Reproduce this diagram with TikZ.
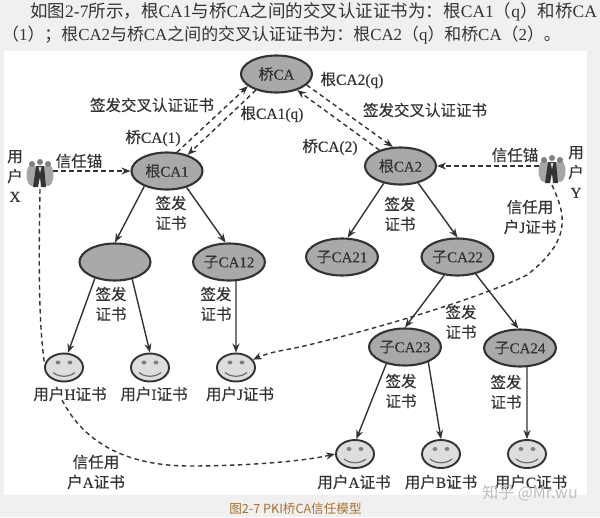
\documentclass[tikz,border=0pt]{standalone}
\usepackage{fontspec}
\setmainfont{Liberation Serif}
\newfontfamily\cjk{Noto Sans CJK SC}[FakeBold=0.25]
\newfontfamily\cjkplain{Noto Sans CJK SC}
\newfontfamily\serifheavy{Liberation Serif}[FakeBold=0.25]
\usetikzlibrary{shapes.geometric,arrows.meta}
\newcommand{\Z}[1]{{\cjk #1}}
\newcommand{\Y}[1]{{\cjkplain #1}}
\definecolor{inkc}{HTML}{333333}
\definecolor{fillca}{HTML}{A9A9A9}
\definecolor{fillface}{HTML}{DDDDDD}
\definecolor{bgc}{HTML}{F0F0F0}
\definecolor{capc}{HTML}{A9702F}
\tikzset{
  canode/.style={ellipse,draw=inkc,line width=2.1pt,fill=fillca,minimum width=71pt,minimum height=37pt,inner sep=0pt,text=inkc,font=\fontsize{15}{15}\serifheavy},
  face/.style={ellipse,draw=inkc,line width=1.9pt,fill=fillface,minimum width=38pt,minimum height=28pt,inner sep=0pt},
  lab/.style={text=inkc,font=\fontsize{15.5}{20}\serifheavy,align=center,inner sep=0pt},
  solidarrow/.style={draw=inkc,line width=1.4pt,-{Stealth[length=9pt,width=7pt]}},
  dasharrow/.style={draw=inkc,line width=1.4pt,dash pattern=on 4.5pt off 3.5pt,-{Stealth[length=9pt,width=7pt]}},
  dashplain/.style={draw=inkc,line width=1.4pt,dash pattern=on 4.5pt off 3.5pt},
  para/.style={anchor=west,inner sep=0pt,text=black!80},
}
\newcommand{\smileyface}[3]{%
  \node[face] (#1) at (#2,#3) {};
  \fill[gray] (#2-6,#3-5) ellipse (2.4pt and 2pt) (#2+6,#3-5) ellipse (2.4pt and 2pt);
  \draw[gray!85!black,line width=1.2pt] (#2-11,#3+5) .. controls (#2-5,#3+10) and (#2+5,#3+10) .. (#2+11,#3+5);
}
\newcommand{\peoplegroup}[3]{%
  \node[minimum width=26pt,minimum height=30pt,inner sep=0pt] (#1) at (#2,#3) {};
  \fill[gray!70] (#2-8,#3+1) ellipse (5.5pt and 11pt) (#2+8,#3+1) ellipse (5.5pt and 11pt);
  \fill[gray] (#2-8,#3-10) circle (3pt) (#2,#3-12) circle (3pt) (#2+8,#3-10) circle (3pt);
  \fill[inkc] (#2-4,#3-8) -- (#2+4,#3-8) -- (#2+6,#3+13) -- (#2+1,#3+13) -- (#2,#3+3) -- (#2-2,#3+13) -- (#2-7,#3+13) -- cycle;
  \fill[gray!35] (#2-1.5,#3-7) -- (#2+1.5,#3-7) -- (#2,#3-1) -- cycle;
}
\begin{document}
\begin{tikzpicture}[x=1pt,y=-1pt]
\useasboundingbox (0,0) rectangle (600,517);
\fill[bgc] (0,0) rectangle (600,517);
\fill[white] (4,51) rectangle (587,495);
% paragraph
\node[para,font=\fontsize{17.5}{18}\selectfont] (line1) at (30,12) {\Y{如图}2-7\Y{所示，根}CA1\Y{与桥}CA\Y{之间的交叉认证证书为：根}CA1\Y{（}q\Y{）和桥}CA};
\node[para,font=\fontsize{16.9}{18}\selectfont] (line2) at (2,35) {\Y{（}1\Y{）；根}CA2\Y{与桥}CA\Y{之间的交叉认证证书为：根}CA2\Y{（}q\Y{）和桥}CA\Y{（}2\Y{）。}};
% CA nodes
\node[canode] (bridge) at (276.5,74) {\Z{桥}CA};
\node[canode] (r1) at (167,171) {\Z{根}CA1};
\node[canode] (r2) at (400.5,166) {\Z{根}CA2};
\node[canode] (c11) at (115,262) {};
\node[canode] (c12) at (229,262) {\Z{子}CA12};
\node[canode] (c21) at (342,257) {\Z{子}CA21};
\node[canode] (c22) at (457.5,257) {\Z{子}CA22};
\node[canode] (c23) at (405,347) {\Z{子}CA23};
\node[canode] (c24) at (520,348) {\Z{子}CA24};
\peoplegroup{px}{40}{174}
\peoplegroup{py}{552}{170}
% dashed curves run behind the faces
\coordinate (bendx) at (62,400);
\coordinate (bendxb) at (190,466);
\coordinate (bendy) at (527,275);
\coordinate (bendyb) at (300,347);
\smileyface{uh}{64}{367.5}
\smileyface{ui}{150}{367.5}
\smileyface{uj}{236}{367.5}
\smileyface{ua}{355}{454}
\smileyface{ub}{441}{454}
\smileyface{uc}{527}{454}
\draw[dashplain] (px.south) .. controls (39,250) and (38,320) .. (uh.170);
\draw[dasharrow] (bendx) .. controls (85,445) and (130,466) .. (bendxb) .. controls (240,466) and (300,462) .. (ua.west);
\draw[dasharrow] (py.south) .. controls (566,215) and (572,240) .. (bendy) .. controls (480,298) and (380,328) .. (bendyb) .. controls (285,350) and (270,352) .. (uj.25);
% certificates between CAs
\draw[dasharrow] (r1.62) -- (bridge.203);
\draw[dasharrow] (bridge.218) -- (r1.38);
\draw[dasharrow] (bridge.340) -- (r2.112);
\draw[dasharrow] (r2.143) -- (bridge.322);
\draw[dasharrow] (px.east |- r1.west) -- (r1.west);
\draw[dasharrow] (py.west |- r2.east) -- (r2.east);
% issuing
\draw[solidarrow] (r1.214) -- (c11.north);
\draw[solidarrow] (r1.-40) -- (c12.100);
\draw[solidarrow] (c11.219) -- (uh.75);
\draw[solidarrow] (c11.-45) -- (ui.90);
\draw[solidarrow] (c12.-70) -- (uj.north);
\draw[solidarrow] (r2.226) -- (c21.74);
\draw[solidarrow] (r2.-44) -- (c22.north);
\draw[solidarrow] (c22.234) -- (c23.north);
\draw[solidarrow] (c22.-43) -- (c24.95);
\draw[solidarrow] (c23.222) -- (ua.85);
\draw[solidarrow] (c23.-33) -- (ub.north);
\draw[solidarrow] (c24.-70) -- (uc.north);
% labels
\node[lab] (t1) at (152,105) {\Z{签发交叉认证证书}};
\node[lab] (t2) at (425,110) {\Z{签发交叉认证证书}};
\node[lab] (t3) at (153,138) {\Z{桥}CA(1)};
\node[lab] (t4) at (330,147) {\Z{桥}CA(2)};
\node[lab] (t5) at (272,114) {\Z{根}CA1(q)};
\node[lab] (t6) at (352,80) {\Z{根}CA2(q)};
\node[lab] (t7) at (79,161) {\Z{信任锚}};
\node[lab] (t8) at (515,155) {\Z{信任锚}};
\node[lab] (t9) at (15,176) {\Z{用}\\\Z{户}\\X};
\node[lab] (t10) at (576,172) {\Z{用}\\\Z{户}\\Y};
\node[lab] (s1) at (171,213) {\Z{签发}\\\Z{证书}};
\node[lab] (s2) at (400,214) {\Z{签发}\\\Z{证书}};
\node[lab] (s3) at (111,304) {\Z{签发}\\\Z{证书}};
\node[lab] (s4) at (216,304) {\Z{签发}\\\Z{证书}};
\node[lab] (s5) at (461,322) {\Z{签发}\\\Z{证书}};
\node[lab] (s6) at (401,391) {\Z{签发}\\\Z{证书}};
\node[lab] (s7) at (506,392) {\Z{签发}\\\Z{证书}};
\node[lab] (s8) at (530,217) {\Z{信任用}\\\Z{户}J\Z{证书}};
\node[lab] (s9) at (96,472) {\Z{信任用}\\\Z{户}A\Z{证书}};
\node[lab] (n1) at (70,394) {\Z{用户}H\Z{证书}};
\node[lab] (n2) at (154,394) {\Z{用户}I\Z{证书}};
\node[lab] (n3) at (240,394) {\Z{用户}J\Z{证书}};
\node[lab] (n4) at (354,482) {\Z{用户}A\Z{证书}};
\node[lab] (n5) at (441,482) {\Z{用户}B\Z{证书}};
\node[lab] (n6) at (531,482) {\Z{用户}C\Z{证书}};
% caption and watermark
\node[inner sep=0pt,text=capc,font=\fontsize{12.6}{14}\cjkplain] (cap) at (295.5,509) {图2-7 PKI桥CA信任模型};
\node[inner sep=0pt,text=gray!50,font=\fontsize{16}{18}\cjkplain] (wm) at (530,493) {知乎 @Mr.wu};
\end{tikzpicture}
\end{document}
